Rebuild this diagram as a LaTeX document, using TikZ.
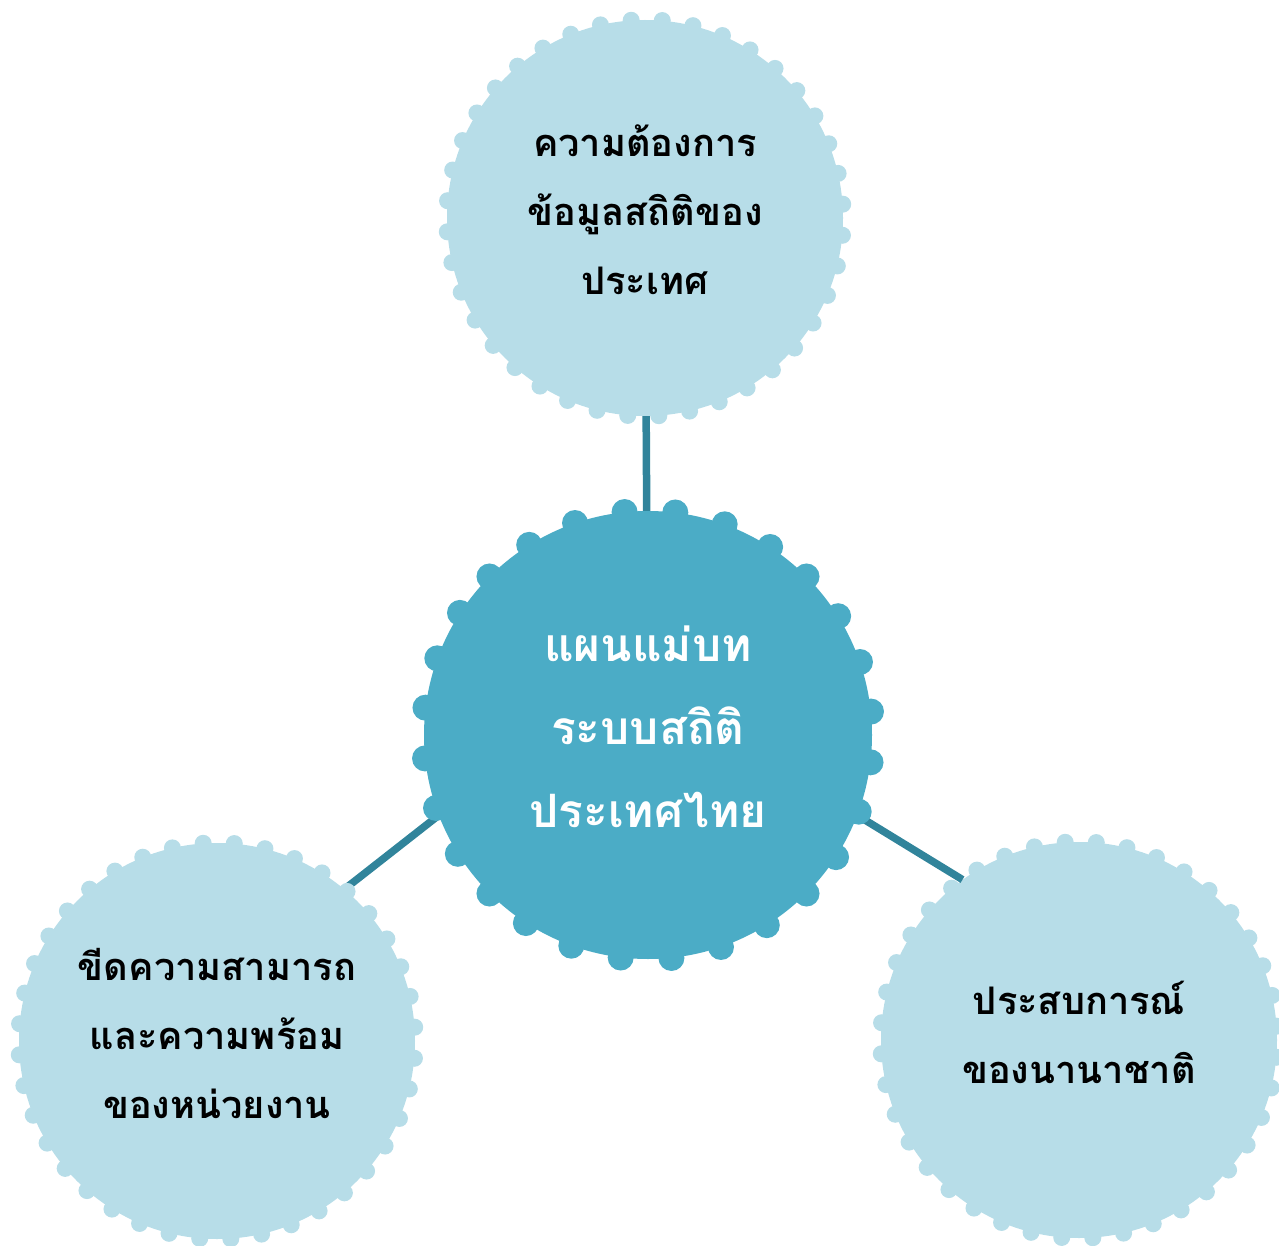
\documentclass[tikz,border=0pt]{standalone}
\usepackage{fontspec}
\newfontfamily\thaifont[Script=Thai]{Loma}
\definecolor{hubblue}{HTML}{4BACC6}
\definecolor{paleblue}{HTML}{B7DDE8}
\definecolor{linkblue}{HTML}{31849B}
\begin{document}
\begin{tikzpicture}[x=1pt, y=-1pt,
  hubnode/.style={circle, fill=hubblue, minimum size=448pt, inner sep=0pt, align=center, text=white,
    text depth=16pt, font=\thaifont\bfseries\fontsize{46}{83}\selectfont},
  leaf/.style={circle, fill=paleblue, minimum size=396pt, inner sep=0pt, align=center,
    text depth=16pt, font=\thaifont\bfseries\fontsize{38}{69}\selectfont},
  link/.style={draw=linkblue, line width=7.5pt}]
  \useasboundingbox (0,0) rectangle (1279,1246);

  \node (hub) [hubnode] at (648,735) {แผนแม่บท\\ระบบสถิติ\\ประเทศไทย};
  \node (need) [leaf] at (645,218) {ความต้องการ\\ข้อมูลสถิติของ\\ประเทศ};
  \node (ready) [leaf] at (217,1041) {ขีดความสามารถ\\และความพร้อม\\ของหน่วยงาน};
  \node (intl) [leaf] at (1079,1040) {ประสบการณ์\\ของนานาชาติ};

  \draw [link] (need) -- (hub);
  \draw [link] (hub.201) -- (ready.50);
  \draw [link] (hub.339) -- (intl.126);

  % scalloped rims
  \foreach \a in {0,...,27}
    \fill [hubblue] (hub.{96.43+\a*360/28}) circle (13pt);
  \foreach \n in {need,ready,intl}
    \foreach \a in {0,9,...,351}
      \fill [paleblue] (\n.{94.5+\a}) circle (8.5pt);
\end{tikzpicture}
\end{document}
